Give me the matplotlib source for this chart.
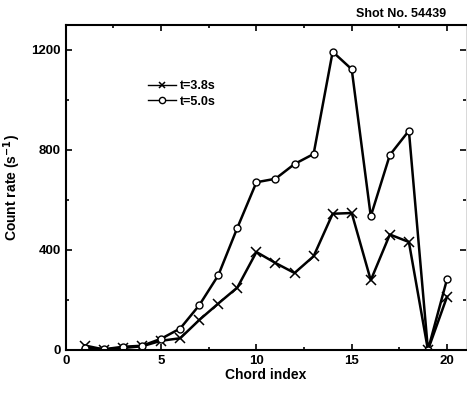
import numpy as np
import matplotlib.pyplot as plt
from matplotlib.ticker import MultipleLocator

plt.rcParams['font.family'] = ['Liberation Sans', 'DejaVu Sans']
plt.rcParams['font.weight'] = 'bold'

chord = np.arange(1, 21)
rate_38 = [18, 2, 8, 15, 37, 47, 120, 186, 250, 392, 348, 308, 375, 545, 548, 279, 462, 432, 0, 213]
rate_50 = [10, 3, 13, 17, 45, 86, 179, 299, 489, 671, 685, 744, 784, 1193, 1123, 535, 780, 877, 0, 283]

fig = plt.figure(figsize=(4.67, 4.0), dpi=100)
ax = fig.add_axes([0.141, 0.125, 0.857, 0.8125])

ax.plot(chord, rate_38, color='black', lw=1.8, marker='x', ms=6.5, mew=1.1,
        label='t=3.8s')
ax.plot(chord, rate_50, color='black', lw=1.8, marker='o', ms=5, mew=1.0,
        mfc='white', label='t=5.0s')

ax.set_xlim(0, 21)
ax.set_ylim(0, 1300)
ax.xaxis.set_major_locator(MultipleLocator(5))
ax.xaxis.set_minor_locator(MultipleLocator(2.5))
ax.yaxis.set_major_locator(MultipleLocator(400))
ax.yaxis.set_minor_locator(MultipleLocator(200))
ax.tick_params(which='both', direction='in', top=True, right=True,
               labelsize=9.5, width=1.2)
ax.tick_params(which='major', length=4)
ax.tick_params(which='minor', length=2.5)
for side in ['left', 'bottom', 'top']:
    ax.spines[side].set_linewidth(1.5)
ax.spines['right'].set_linewidth(0.4)
ax.spines['right'].set_color('#bbbbbb')

ax.set_xlabel('Chord index', fontsize=10, fontweight='bold', labelpad=1)
ax.set_ylabel('Count rate (s$^{\\mathbf{-1}}$)', fontsize=10, fontweight='bold', labelpad=6)

leg = ax.legend(loc='upper left', bbox_to_anchor=(0.19, 0.85), frameon=False,
                fontsize=9, handlelength=2.2, handletextpad=0.3, labelspacing=0.3,
                borderpad=0)
# thinner handles in the key
for h in leg.get_lines():
    h.set_linewidth(1.0)
    h.set_markersize(4.5)

fig.text(0.955, 0.965, 'Shot No. 54439', ha='right', va='center',
         fontsize=9, fontweight='bold')

fig.savefig('out.png', dpi=100)
